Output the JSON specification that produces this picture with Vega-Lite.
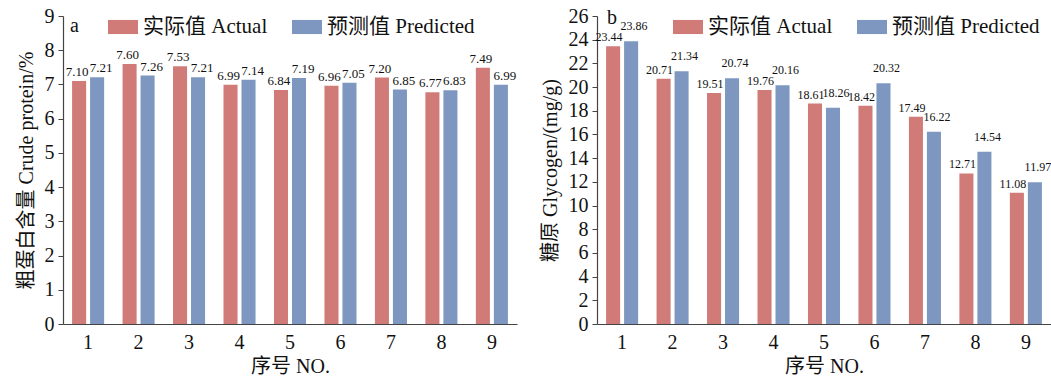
{
  "$schema": "https://vega.github.io/schema/vega-lite/v6.json",
  "background": "white",
  "padding": {"left": 16, "top": 6, "right": 0, "bottom": 4},
  "spacing": 23,
  "config": {
    "font": "Liberation Serif, Noto Sans CJK SC",
    "view": {"stroke": null},
    "axis": {
      "labelFont": "Liberation Serif, Noto Sans CJK SC",
      "titleFont": "Liberation Serif, Noto Sans CJK SC",
      "labelFontSize": 20,
      "titleFontSize": 20,
      "titleFontWeight": "normal",
      "labelColor": "#111",
      "titleColor": "#111",
      "domainColor": "#444",
      "tickColor": "#444",
      "domainWidth": 1.2,
      "grid": false
    },
    "legend": {
      "labelFont": "Liberation Serif, Noto Sans CJK SC",
      "labelFontSize": 21,
      "labelColor": "#111",
      "symbolType": "M-1,-0.47L1,-0.47L1,0.47L-1,0.47Z",
      "symbolSize": 900,
      "symbolStrokeWidth": 0,
      "symbolOpacity": 1,
      "labelOffset": 5,
      "columnPadding": 24,
      "direction": "horizontal",
      "orient": "none"
    },
    "title": {"font": "Liberation Serif", "fontSize": 20, "fontWeight": "normal", "color": "#111"}
  },
  "datasets": {
    "protein": [
      {"no": "1", "type": "实际值 Actual", "value": 7.10},
      {"no": "1", "type": "预测值 Predicted", "value": 7.21},
      {"no": "2", "type": "实际值 Actual", "value": 7.60},
      {"no": "2", "type": "预测值 Predicted", "value": 7.26},
      {"no": "3", "type": "实际值 Actual", "value": 7.53},
      {"no": "3", "type": "预测值 Predicted", "value": 7.21},
      {"no": "4", "type": "实际值 Actual", "value": 6.99},
      {"no": "4", "type": "预测值 Predicted", "value": 7.14},
      {"no": "5", "type": "实际值 Actual", "value": 6.84},
      {"no": "5", "type": "预测值 Predicted", "value": 7.19},
      {"no": "6", "type": "实际值 Actual", "value": 6.96},
      {"no": "6", "type": "预测值 Predicted", "value": 7.05},
      {"no": "7", "type": "实际值 Actual", "value": 7.20},
      {"no": "7", "type": "预测值 Predicted", "value": 6.85},
      {"no": "8", "type": "实际值 Actual", "value": 6.77},
      {"no": "8", "type": "预测值 Predicted", "value": 6.83},
      {"no": "9", "type": "实际值 Actual", "value": 7.49},
      {"no": "9", "type": "预测值 Predicted", "value": 6.99}
    ],
    "glycogen": [
      {"no": "1", "type": "实际值 Actual", "value": 23.44},
      {"no": "1", "type": "预测值 Predicted", "value": 23.86},
      {"no": "2", "type": "实际值 Actual", "value": 20.71},
      {"no": "2", "type": "预测值 Predicted", "value": 21.34},
      {"no": "3", "type": "实际值 Actual", "value": 19.51},
      {"no": "3", "type": "预测值 Predicted", "value": 20.74},
      {"no": "4", "type": "实际值 Actual", "value": 19.76},
      {"no": "4", "type": "预测值 Predicted", "value": 20.16},
      {"no": "5", "type": "实际值 Actual", "value": 18.61},
      {"no": "5", "type": "预测值 Predicted", "value": 18.26},
      {"no": "6", "type": "实际值 Actual", "value": 18.42},
      {"no": "6", "type": "预测值 Predicted", "value": 20.32},
      {"no": "7", "type": "实际值 Actual", "value": 17.49},
      {"no": "7", "type": "预测值 Predicted", "value": 16.22},
      {"no": "8", "type": "实际值 Actual", "value": 12.71},
      {"no": "8", "type": "预测值 Predicted", "value": 14.54},
      {"no": "9", "type": "实际值 Actual", "value": 11.08},
      {"no": "9", "type": "预测值 Predicted", "value": 11.97}
    ]
  },
  "resolve": {"legend": {"color": "independent"}, "scale": {"color": "independent"}},
  "hconcat": [
    {
      "width": 454,
      "height": 308,
      "data": {"name": "protein"},
      "title": {"text": "a", "anchor": "start", "frame": "group", "dx": 7, "dy": 30, "offset": 0},
      "encoding": {
        "x": {
          "field": "no", "type": "ordinal",
          "scale": {"paddingInner": 0.365, "paddingOuter": 0.18},
          "axis": {"title": "序号 NO.", "labelAngle": 0, "ticks": false, "labelPadding": 8, "titlePadding": 4}
        },
        "xOffset": {"field": "type", "scale": {"paddingInner": 0.22}},
        "y": {
          "field": "value", "type": "quantitative",
          "scale": {"domain": [0, 9], "nice": false},
          "axis": {"title": "粗蛋白含量 Crude protein/%", "values": [0, 1, 2, 3, 4, 5, 6, 7, 8, 9], "tickSize": 5, "labelPadding": 4, "titlePadding": 8}
        }
      },
      "layer": [
        {
          "mark": {"type": "bar"},
          "encoding": {
            "color": {
              "field": "type", "type": "nominal",
              "scale": {"domain": ["实际值 Actual", "预测值 Predicted"], "range": ["#d07b77", "#7e97c0"]},
              "legend": {"title": null, "legendX": 45, "legendY": -4}
            }
          }
        },
        {
          "transform": [{"filter": "datum.type === '实际值 Actual'"}],
          "mark": {"type": "text", "baseline": "bottom", "dy": -2, "dx": -2, "fontSize": 13, "font": "Liberation Serif", "color": "#111"},
          "encoding": {"text": {"field": "value", "type": "quantitative", "format": ".2f"}}
        },
        {
          "transform": [{"filter": "datum.type === '预测值 Predicted'"}],
          "mark": {"type": "text", "baseline": "bottom", "dy": -2, "dx": 4, "fontSize": 13, "font": "Liberation Serif", "color": "#111"},
          "encoding": {"text": {"field": "value", "type": "quantitative", "format": ".2f"}}
        }
      ]
    },
    {
      "width": 454,
      "height": 308,
      "data": {"name": "glycogen"},
      "title": {"text": "b", "anchor": "start", "frame": "group", "dx": 10, "dy": 22, "offset": 0},
      "encoding": {
        "x": {
          "field": "no", "type": "ordinal",
          "scale": {"paddingInner": 0.365, "paddingOuter": 0.18},
          "axis": {"title": "序号 NO.", "labelAngle": 0, "ticks": false, "labelPadding": 8, "titlePadding": 4}
        },
        "xOffset": {"field": "type", "scale": {"paddingInner": 0.22}},
        "y": {
          "field": "value", "type": "quantitative",
          "scale": {"domain": [0, 26], "nice": false},
          "axis": {"title": "糖原 Glycogen/(mg/g)", "values": [0, 2, 4, 6, 8, 10, 12, 14, 16, 18, 20, 22, 24, 26], "tickSize": 5, "labelPadding": 4, "titlePadding": 8}
        }
      },
      "layer": [
        {
          "mark": {"type": "bar"},
          "encoding": {
            "color": {
              "field": "type", "type": "nominal",
              "scale": {"domain": ["实际值 Actual", "预测值 Predicted"], "range": ["#d07b77", "#7e97c0"]},
              "legend": {"title": null, "legendX": 76, "legendY": -4}
            }
          }
        },
        {
          "transform": [{"filter": "datum.type === '实际值 Actual'"}],
          "mark": {"type": "text", "baseline": "bottom", "dy": -2, "dx": -4, "fontSize": 12, "font": "Liberation Serif", "color": "#111"},
          "encoding": {"text": {"field": "value", "type": "quantitative", "format": ".2f"}}
        },
        {
          "transform": [{"filter": "datum.type === '预测值 Predicted'"}],
          "mark": {"type": "text", "baseline": "bottom", "dy": -8, "dx": 3, "fontSize": 12, "font": "Liberation Serif", "color": "#111"},
          "encoding": {"text": {"field": "value", "type": "quantitative", "format": ".2f"}}
        }
      ]
    }
  ]
}
